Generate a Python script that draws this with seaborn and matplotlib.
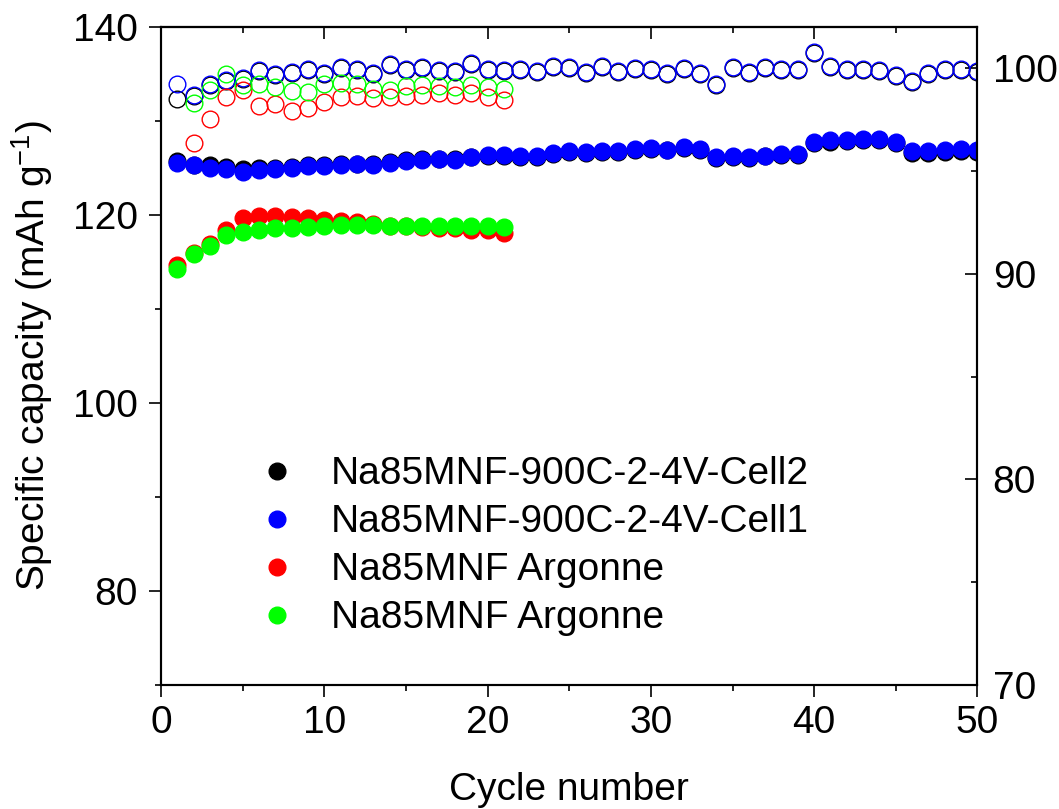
import matplotlib
matplotlib.use("Agg")
import matplotlib.pyplot as plt
import seaborn as sns
import pandas as pd
from matplotlib.ticker import MultipleLocator

# cycle numbers
cycles_long = list(range(1, 51))
cycles_short = list(range(1, 22))
ce_cycles_short = list(range(2, 22))

# specific capacity (mAh/g), left axis, filled circles
cap_cell2 = [125.75, 125.35, 125.3, 125.1, 124.9, 125.0, 125.05, 125.1, 125.3, 125.3,
             125.45, 125.5, 125.45, 125.7, 125.85, 125.95, 126.0, 125.95, 126.2, 126.35,
             126.3, 126.15, 126.15, 126.5, 126.7, 126.6, 126.75, 126.75, 126.95, 127.05,
             126.9, 127.1, 126.95, 126.05, 126.2, 126.05, 126.25, 126.4, 126.4, 127.65,
             127.8, 127.9, 127.95, 127.95, 127.65, 126.65, 126.6, 126.75, 126.8, 126.7]
cap_cell1 = [125.57, 125.29, 125.04, 124.93, 124.58, 124.79, 124.93, 125.0, 125.22, 125.22,
             125.39, 125.43, 125.36, 125.57, 125.72, 125.82, 125.93, 125.86, 126.22, 126.43,
             126.43, 126.27, 126.27, 126.63, 126.81, 126.7, 126.88, 126.88, 127.06, 127.16,
             126.99, 127.24, 127.06, 126.17, 126.35, 126.17, 126.35, 126.52, 126.52, 127.77,
             127.95, 128.05, 128.13, 128.13, 127.84, 126.88, 126.81, 126.99, 127.06, 126.99]
cap_argonne_a = [114.7, 116.0, 116.9, 118.45, 119.75, 119.9, 119.9, 119.8, 119.7, 119.5,
                 119.35, 119.25, 119.1, 118.9, 118.8, 118.75, 118.6, 118.6, 118.45, 118.4, 118.15]
cap_argonne_b = [114.3, 115.9, 116.75, 117.9, 118.25, 118.45, 118.6, 118.6, 118.7, 118.8,
                 118.95, 119.0, 118.95, 118.85, 118.9, 118.9, 118.9, 118.9, 118.85, 118.9, 118.7]

# coulombic efficiency (%), right axis, open circles
ce_cell2 = [98.50, 98.65, 99.21, 99.38, 99.46, 99.86, 99.67, 99.78, 99.90, 99.73,
            100.02, 99.90, 99.73, 100.14, 99.90, 100.02, 99.86, 99.83, 100.19, 99.90,
            99.86, 99.94, 99.83, 100.06, 100.02, 99.78, 100.06, 99.83, 99.99, 99.94,
            99.73, 99.99, 99.73, 99.21, 100.02, 99.78, 100.02, 99.90, 99.94, 100.75,
            100.06, 99.90, 99.90, 99.86, 99.62, 99.34, 99.73, 99.94, 99.90, 99.83]
ce_cell1 = [99.26, 98.70, 99.26, 99.43, 99.51, 99.91, 99.72, 99.83, 99.95, 99.78,
            100.07, 99.95, 99.78, 100.19, 99.95, 100.07, 99.91, 99.88, 100.24, 99.95,
            99.91, 99.99, 99.88, 100.11, 100.07, 99.83, 100.11, 99.88, 100.04, 99.99,
            99.78, 100.04, 99.78, 99.26, 100.07, 99.83, 100.07, 99.95, 99.99, 100.80,
            100.11, 99.95, 99.95, 99.91, 99.67, 99.39, 99.78, 99.99, 99.95, 99.88]
ce_argonne_a = [96.35, 97.56, 98.61, 98.94, 98.16, 98.26, 97.93, 98.05, 98.37, 98.61,
                98.65, 98.54, 98.61, 98.65, 98.70, 98.78, 98.70, 98.78, 98.61, 98.45]
ce_argonne_b = [98.32, 98.97, 99.72, 99.18, 99.23, 99.07, 98.91, 98.86, 99.23, 99.29,
                99.26, 99.02, 98.94, 99.13, 99.18, 99.13, 99.10, 99.18, 99.10, 99.02]

labels = ["Na85MNF-900C-2-4V-Cell2", "Na85MNF-900C-2-4V-Cell1",
          "Na85MNF Argonne", "Na85MNF Argonne"]
colors = ["#000000", "#0000FF", "#FF0000", "#00FF00"]

sns.set_theme(style="ticks")
plt.rcParams["font.family"] = ["Liberation Sans", "DejaVu Sans"]
plt.rcParams["mathtext.default"] = "regular"
plt.rcParams["axes.linewidth"] = 1.5
plt.rcParams["text.color"] = "black"
plt.rcParams["axes.labelcolor"] = "black"
plt.rcParams["xtick.color"] = "black"
plt.rcParams["ytick.color"] = "black"

fig = plt.figure(figsize=(10.59, 8.09), dpi=100)
ax = fig.add_axes([0.152, 0.1533, 0.771, 0.813])
ax2 = ax.twinx()

series = [
    (cycles_long, cap_cell2, cycles_long, ce_cell2),
    (cycles_long, cap_cell1, cycles_long, ce_cell1),
    (cycles_short, cap_argonne_a, ce_cycles_short, ce_argonne_a),
    (cycles_short, cap_argonne_b, ce_cycles_short, ce_argonne_b),
]

handles = []
for (xc, yc, xe, ye), lab, col in zip(series, labels, colors):
    sns.lineplot(x=xc, y=yc, ax=ax, linestyle="", marker="o", markersize=12,
                 markerfacecolor=col, markeredgecolor=col, markeredgewidth=1.0,
                 color=col, errorbar=None, label=lab, legend=False)
    handles.append(ax.lines[-1])
    sns.lineplot(x=xe, y=ye, ax=ax2, linestyle="", marker="o", markersize=12,
                 markerfacecolor="none", markeredgecolor=col, markeredgewidth=1.0,
                 color=col, errorbar=None, legend=False)

ax.set_xlim(0, 50)
ax.set_ylim(70, 140)
ax2.set_ylim(70, 102)

fs = 28
ax.xaxis.set_major_locator(MultipleLocator(10))
ax.xaxis.set_minor_locator(MultipleLocator(5))
ax.yaxis.set_major_locator(MultipleLocator(20))
ax.yaxis.set_minor_locator(MultipleLocator(10))
ax2.yaxis.set_major_locator(MultipleLocator(10))
ax2.yaxis.set_minor_locator(MultipleLocator(5))

ax.tick_params(axis="x", which="major", direction="out", length=8.5, width=1.2,
               labelsize=fs, pad=6)
ax.tick_params(axis="x", which="minor", direction="out", length=4.5, width=1.2)
ax.tick_params(axis="y", which="major", direction="out", length=8.5, width=1.2,
               labelsize=fs, pad=8, right=False)
ax.tick_params(axis="y", which="minor", direction="out", length=4.5, width=1.2, right=False)
ax2.tick_params(axis="y", which="major", direction="in", length=8.5, width=1.2,
                labelsize=fs, pad=11)
ax2.tick_params(axis="y", which="minor", direction="in", length=4.5, width=1.2)

top = ax.secondary_xaxis("top")
top.xaxis.set_major_locator(MultipleLocator(10))
top.xaxis.set_minor_locator(MultipleLocator(5))
top.tick_params(axis="x", which="major", direction="in", length=8.5, width=1.2, labeltop=False)
top.tick_params(axis="x", which="minor", direction="in", length=4.5, width=1.2)
top.spines["top"].set_linewidth(1.5)

for a in (ax, ax2):
    for sp in a.spines.values():
        sp.set_color("black")
        sp.set_linewidth(1.5)
        sp.set_visible(True)

ax.set_xlabel("Cycle number", fontsize=fs, labelpad=22)
ax.set_ylabel("Specific capacity (mAh g$^{-1}$)", fontsize=fs, labelpad=13)
ax2.set_ylabel("")

leg = ax.legend(handles, labels, loc="upper left", bbox_to_anchor=(0.2429, 0.436),
                bbox_transform=fig.transFigure, frameon=False, fontsize=fs,
                handlelength=1.0, handletextpad=0.9, labelspacing=0.31,
                borderpad=0, borderaxespad=0)
for t in leg.get_texts():
    t.set_color("black")

fig.savefig("out.png", dpi=100)
